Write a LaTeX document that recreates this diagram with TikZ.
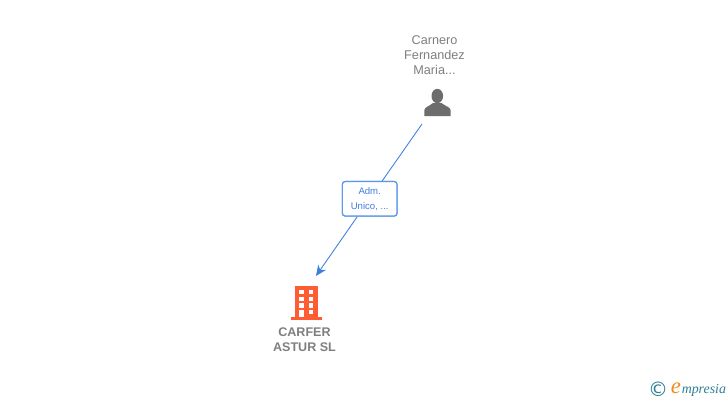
\documentclass[tikz,border=0pt]{standalone}
\usepackage{fontspec}
\setmainfont{Liberation Sans}
\newfontfamily\dejavu{DejaVu Sans}
\newfontfamily\serifit{Liberation Serif}
\usetikzlibrary{arrows.meta}
\definecolor{greytxt}{HTML}{7F7F7F}
\definecolor{personc}{HTML}{6D6D6D}
\definecolor{linkc}{HTML}{3F7FDD}
\definecolor{boxc}{HTML}{5B97EA}
\definecolor{orangeb}{HTML}{FF5C33}
\definecolor{tealc}{HTML}{2F7F96}
\definecolor{orangee}{HTML}{F28A1E}
\tikzset{
  px/.style={x=0.75pt,y=-0.75pt},
  persontxt/.style={font=\fontsize{9.5}{11.2}\selectfont,text=greytxt,align=center,inner sep=0pt},
  companytxt/.style={font=\bfseries\fontsize{9.4}{11.4}\selectfont,text=greytxt,align=center,inner sep=0pt},
  rolebox/.style={draw=boxc,line width=0.9pt,rounded corners=2.2pt,fill=white,minimum width=41pt,minimum height=25.9pt,inner sep=0pt,align=center,font=\fontsize{7.2}{12}\selectfont,text=linkc},
  link/.style={draw=linkc,line width=0.65pt,-{Stealth[length=8pt,width=7pt,inset=2.5pt]}},
  win/.style={fill=white,draw=none}
}
\begin{document}
\begin{tikzpicture}[px]
\useasboundingbox (0,0) rectangle (728,400);
\fill[white] (0,0) rectangle (728,400);
% labels
\node[persontxt] (personlabel) at (434.5,55) {Carnero\\Fernandez\\Maria...};
\node[companytxt] (companylabel) at (304.5,339.5) {CARFER\\ASTUR SL};
% person icon
\coordinate (person) at (422,124);
\coordinate (company) at (316,276);
\fill[personc] (437.3,96) ellipse (5.8 and 7.2);
\fill[personc] (424.3,116) -- (424.3,110.5) .. controls (424.3,107) and (429,106.5) .. (433,103) -- (441.5,103) .. controls (445.5,106.5) and (450.7,107) .. (450.7,110.5) -- (450.7,116) -- cycle;
% building icon
\fill[orangeb] (295,286) rectangle (317.5,317.5);
\fill[orangeb] (291,317.3) rectangle (322,319.5);
\foreach \yy in {290,296.7,303.4}{
  \fill[win] (298.5,\yy) rectangle (303.5,\yy+4.3);
  \fill[win] (308.7,\yy) rectangle (313.4,\yy+4.3);
}
\fill[win] (298.5,310) rectangle (303.5,317.4);
\fill[win] (308.7,310) rectangle (313.4,314.3);
% connector
\node[rolebox] (role) at (369.7,198.8) {\raisebox{-1.6pt}{Adm.}\\\raisebox{-1pt}{Unico, ...}};
\draw[link] (person) -- (role) -- (company);
\node[rolebox] at (369.7,198.8) {\raisebox{-1.6pt}{Adm.}\\\raisebox{-1pt}{Unico, ...}};
% logo
\node[inner sep=0pt,text=tealc,font=\dejavu\fontsize{15}{16}\selectfont] (copy) at (658,389) {©};
\node[inner sep=0pt,text=orangee,font=\serifit\itshape\fontsize{17}{20}\selectfont] (elogo) at (676,388) {e};
\node[inner sep=0pt,anchor=base west,text=tealc,font=\serifit\itshape\fontsize{10.4}{14}\selectfont] (mlogo) at (681.5,393) {mpresia};
\end{tikzpicture}
\end{document}
